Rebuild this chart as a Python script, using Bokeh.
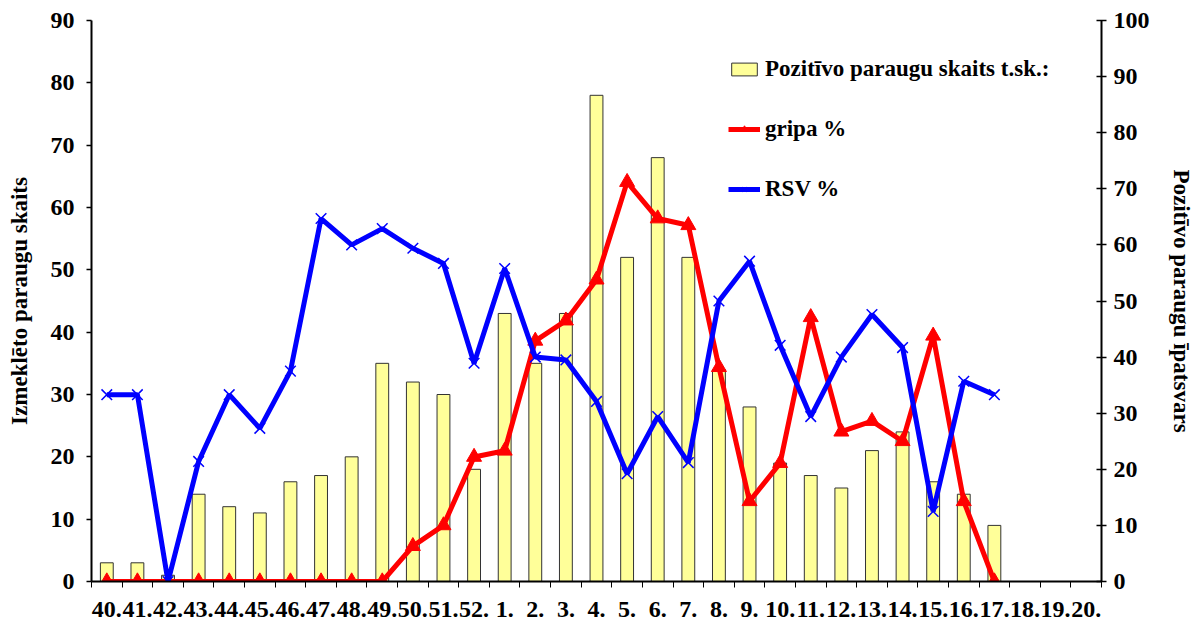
from bokeh.plotting import figure
from bokeh.models import Range1d, LinearAxis, FixedTicker, Legend, LegendItem
from bokeh.embed import file_html
from bokeh.resources import INLINE

weeks = ["40.", "41.", "42.", "43.", "44.", "45.", "46.", "47.", "48.", "49.", "50.", "51.", "52.",
         "1.", "2.", "3.", "4.", "5.", "6.", "7.", "8.", "9.", "10.", "11.", "12.", "13.", "14.",
         "15.", "16.", "17.", "18.", "19.", "20."]
samples = [3, 3, 1, 14, 12, 11, 16, 17, 20, 35, 32, 30, 18, 43, 35, 43, 78, 52, 68, 52, 34, 28, 19,
           17, 15, 21, 24, 16, 14, 9]
gripa = [0, 0, 0, 0, 0, 0, 0, 0, 0, 0, 6.3, 10, 22.2, 23.3, 42.9, 46.5, 53.8, 71.2, 64.7, 63.5,
         38.2, 14.3, 21.1, 47.1, 26.7, 28.6, 25, 43.8, 14.3, 0]
rsv = [33.3, 33.3, 0, 21.4, 33.3, 27.3, 37.5, 64.7, 60, 62.9, 59.4, 56.7, 38.9, 55.8, 40, 39.5, 32.1,
       19.2, 29.4, 21.2, 50, 57.1, 42.1, 29.4, 40, 47.6, 41.7, 12.5, 35.7, 33.3]

FONT = "Liberation Serif"
n = len(weeks)
xs = list(range(len(samples)))

p = figure(frame_width=1010, frame_height=561, output_backend="svg", toolbar_location=None,
           x_range=Range1d(-0.5, n - 0.5), y_range=Range1d(0, 90),
           min_border_left=91, min_border_right=95, min_border_top=20, min_border_bottom=45)
p.extra_y_ranges = {"pct": Range1d(0, 100)}
p.outline_line_color = None
p.xgrid.visible = False
p.ygrid.visible = False
p.background_fill_color = "white"

bars = p.vbar(x=xs, top=samples, width=0.42, fill_color="#FFFF99", line_color="#333333", line_width=1)
gl = p.line(xs, gripa, y_range_name="pct", line_color="#FF0000", line_width=5)
gm = p.scatter(xs, gripa, y_range_name="pct", marker="triangle", size=15,
               fill_color="#FF0000", line_color="#FF0000")
rl = p.line(xs, rsv, y_range_name="pct", line_color="#0000FF", line_width=5)
rm = p.scatter(xs, rsv, y_range_name="pct", marker="x", size=15,
               line_color="#0000FF", line_width=1.5)

# bottom axis
xa = p.xaxis[0]
xa.ticker = FixedTicker(ticks=list(range(n)), minor_ticks=[i - 0.5 for i in range(n + 1)])
xa.major_label_overrides = {i: w for i, w in enumerate(weeks)}
xa.major_tick_out = 0
xa.major_tick_in = 0
xa.minor_tick_out = 6
xa.minor_tick_in = 0
xa.minor_tick_line_color = "black"
xa.axis_line_width = 2
xa.axis_line_color = "black"
xa.major_label_text_font = FONT
xa.major_label_text_font_style = "bold"
xa.major_label_text_font_size = "24px"
xa.major_label_text_color = "black"
xa.major_label_standoff = 14

# left axis
ya = p.yaxis[0]
ya.ticker = FixedTicker(ticks=list(range(0, 91, 10)))
ya.axis_label = "Izmeklēto paraugu skaits"
ya.major_tick_out = 5
ya.major_tick_in = 0
ya.minor_tick_out = 0
ya.minor_tick_in = 0
ya.axis_line_width = 2
ya.major_tick_line_width = 1.5
ya.major_label_standoff = 12
ya.major_label_text_font = FONT
ya.major_label_text_font_style = "bold"
ya.major_label_text_font_size = "24px"
ya.major_label_text_color = "black"
ya.axis_label_text_font = FONT
ya.axis_label_text_font_style = "bold"
ya.axis_label_text_font_size = "23px"
ya.axis_label_text_color = "black"
ya.axis_label_standoff = 16

ra = LinearAxis(y_range_name="pct", ticker=FixedTicker(ticks=list(range(0, 101, 10))),
                axis_label="Pozitīvo paraugu īpatsvars")
ra.major_tick_out = 5
ra.major_tick_in = 5
ra.minor_tick_out = 0
ra.minor_tick_in = 0
ra.axis_line_width = 2
ra.major_tick_line_width = 1.5
ra.major_label_standoff = 7
ra.major_label_text_font = FONT
ra.major_label_text_font_style = "bold"
ra.major_label_text_font_size = "24px"
ra.major_label_text_color = "black"
ra.axis_label_text_font = FONT
ra.axis_label_text_font_style = "bold"
ra.axis_label_text_font_size = "23px"
ra.axis_label_text_color = "black"
ra.axis_label_standoff = 16
p.add_layout(ra, "right")

legend = Legend(items=[
    LegendItem(label="Pozitīvo paraugu skaits t.sk.:", renderers=[bars]),
    LegendItem(label="gripa %", renderers=[gl, gm]),
    LegendItem(label="RSV %", renderers=[rl, rm]),
], location=(637, 379))
legend.border_line_color = None
legend.background_fill_alpha = 0
legend.padding = 0
legend.margin = 0
legend.spacing = 34
legend.glyph_width = 32
legend.glyph_height = 16
legend.label_height = 20
legend.label_standoff = 5
legend.label_text_font = FONT
legend.label_text_font_style = "bold"
legend.label_text_font_size = "23px"
legend.label_text_color = "black"
p.add_layout(legend, "center")

open("out.html", "w").write(file_html(p, INLINE))
